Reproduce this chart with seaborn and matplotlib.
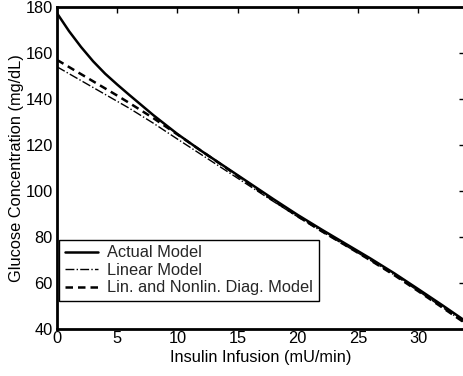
import matplotlib
matplotlib.use("Agg")
import matplotlib.pyplot as plt
import seaborn as sns
import numpy as np

sns.set_theme(style="white")
plt.rcParams['font.family'] = ['Liberation Sans', 'DejaVu Sans']

insulin = [0, 1, 2, 3, 4, 5, 6, 8, 10, 12, 14, 16, 18, 20, 22, 24, 26, 28, 30, 32, 34]
actual = [177.3, 169.5, 162.6, 156.4, 151.0, 146.3, 141.8, 133.0, 124.8, 117.4, 110.4, 103.4,
          96.4, 89.6, 83.2, 77.0, 70.8, 64.3, 57.4, 50.4, 43.2]
linear = [154.0, 151.0, 148.0, 145.0, 142.0, 139.0, 136.0, 129.5, 122.6, 115.8, 109.0, 102.2,
          95.4, 88.8, 82.4, 76.2, 70.0, 63.6, 56.6, 49.5, 42.3]
diag = [157.0, 153.9, 150.8, 147.7, 144.6, 141.5, 138.3, 131.7, 124.6, 117.4, 110.2, 103.0,
        95.8, 89.0, 82.5, 76.3, 70.0, 63.5, 56.5, 49.4, 42.2]

xticks = [0, 5, 10, 15, 20, 25, 30]
yticks = [40, 60, 80, 100, 120, 140, 160, 180]

fs = 11.8

fig = plt.figure(figsize=(4.64, 3.76), dpi=100)
ax = fig.add_axes([57 / 464, 1 - 329 / 376, (465 - 57) / 464, (329 - 7) / 376])

sns.lineplot(x=insulin, y=actual, ax=ax, color='black', linewidth=1.8, label='Actual Model')
sns.lineplot(x=insulin, y=linear, ax=ax, color='black', linewidth=1.0, linestyle='-.',
             label='Linear Model')
sns.lineplot(x=insulin, y=diag, ax=ax, color='black', linewidth=1.8, linestyle=(0, (3, 2)),
             label='Lin. and Nonlin. Diag. Model')

ax.set_xlim(0, 33.9)
ax.set_ylim(40, 180)
ax.set_xticks(xticks)
ax.set_yticks(yticks)
ax.tick_params(direction='in', length=4, width=1, top=True, right=True, labelsize=fs,
               colors='black')
ax.tick_params(axis='x', pad=1.5)
ax.tick_params(axis='y', pad=3)
for s in ax.spines.values():
    s.set_color('black')
    s.set_linewidth(2)

ax.set_xlabel('Insulin Infusion (mU/min)', fontsize=fs, labelpad=2.5, color='black')
ax.set_ylabel('Glucose Concentration (mg/dL)', fontsize=fs, labelpad=1, color='black')

leg = ax.legend(loc='lower left', bbox_to_anchor=(0.005, 0.087), fontsize=fs, frameon=True,
                fancybox=False, edgecolor='black', framealpha=1, borderpad=0.35,
                labelspacing=0.15, handlelength=2.0, handletextpad=0.6, borderaxespad=0)
leg.get_frame().set_linewidth(1.0)

fig.savefig('out.png', dpi=100)
